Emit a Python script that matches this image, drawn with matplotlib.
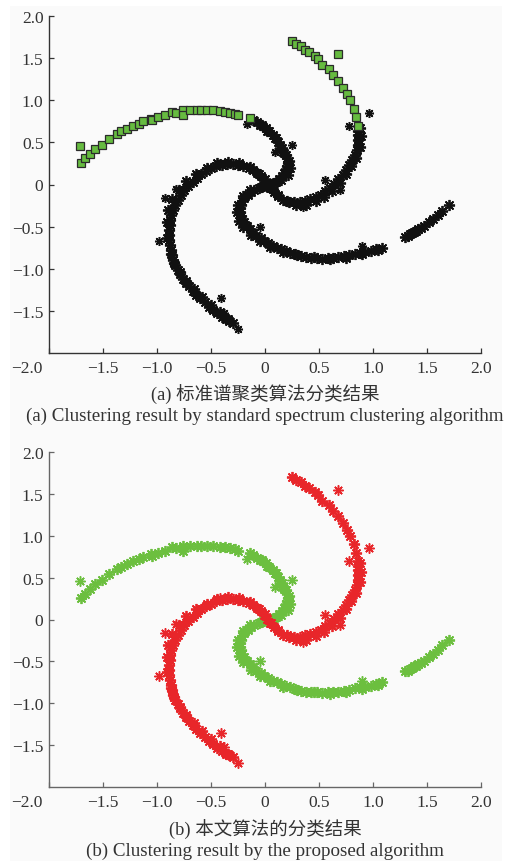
import matplotlib
matplotlib.use('Agg')
import matplotlib.pyplot as plt
from matplotlib.patches import Rectangle
import matplotlib.transforms as mtransforms

plt.rcParams['font.family'] = ['Liberation Serif', 'Noto Sans CJK SC', 'DejaVu Sans']

# ---------------- data ----------------
# outer part of the upper-left arm (squares in (a), green in (b))
sq_green_x = [-1.70, -1.67, -1.62, -1.57, -1.51, -1.44, -1.37, -1.33, -1.28, -1.22,
              -1.17, -1.13, -1.06, -1.05, -0.99, -0.93, -0.86, -0.82, -0.76, -0.76, -0.69,
              -0.63, -0.59, -0.54, -0.48, -0.42, -0.37, -0.32, -0.28, -0.25, -0.14]
sq_green_y = [0.26, 0.31, 0.36, 0.42, 0.47, 0.54, 0.60, 0.63, 0.66, 0.70,
              0.72, 0.75, 0.78, 0.76, 0.80, 0.82, 0.86, 0.85, 0.88, 0.82, 0.88,
              0.88, 0.88, 0.88, 0.88, 0.87, 0.86, 0.85, 0.84, 0.82, 0.79]
# outlier of that arm drawn as a square in (a)
out_green_sq_x = [-1.71]
out_green_sq_y = [0.46]

# outer part of the upper-right arm (squares in (a), red in (b))
sq_red_x = [0.25, 0.29, 0.33, 0.37, 0.41, 0.46, 0.49, 0.53, 0.59, 0.63, 0.68,
            0.72, 0.76, 0.79, 0.82, 0.84, 0.86]
sq_red_y = [1.70, 1.67, 1.64, 1.60, 1.57, 1.52, 1.49, 1.42, 1.37, 1.30, 1.23,
            1.15, 1.07, 1.00, 0.90, 0.80, 0.70]
out_red_sq_x = [0.68]
out_red_sq_y = [1.55]

# rest of the green cluster (black in (a), green in (b))
bk_green_x = [-0.11, -0.07, -0.03, 0.01, 0.04, 0.07, 0.10, 0.12, 0.14, 0.16, 0.17, 0.19,
              0.20, 0.21, 0.20, 0.19, 0.18, 0.16, 0.13, 0.10, 0.06, 0.02, -0.02, -0.06,
              -0.10, -0.13, -0.16, -0.19, -0.21, -0.22, -0.23, -0.23, -0.22, -0.21, -0.19,
              -0.17, -0.14, -0.11, -0.08, -0.04, -0.01, 0.03, 0.07, 0.11, 0.15, 0.19, 0.23,
              0.28, 0.33, 0.38, 0.43, 0.48, 0.53, 0.58, 0.63, 0.68, 0.73, 0.78, 0.83, 0.88,
              0.93, 0.98, 1.03, 1.08,
              -0.05, 0.02, 0.09, 0.14, 0.18, 0.22, 0.23, 0.21, 0.15, 0.08, -0.04, -0.14,
              -0.20, -0.25, -0.26, -0.24, -0.20, -0.13, -0.05, 0.05, 0.17, 0.30, 0.45,
              0.60, 0.75, 0.90, 1.05,
              1.30, 1.32, 1.34, 1.36, 1.38, 1.40, 1.42, 1.44, 1.47, 1.52, 1.56, 1.60, 1.64, 1.70]
bk_green_y = [0.77, 0.74, 0.71, 0.67, 0.63, 0.59, 0.55, 0.51, 0.47, 0.43, 0.39, 0.35,
              0.31, 0.26, 0.22, 0.18, 0.14, 0.10, 0.06, 0.03, 0.01, -0.01, -0.02, -0.04,
              -0.06, -0.09, -0.12, -0.16, -0.20, -0.24, -0.28, -0.33, -0.37, -0.41, -0.45,
              -0.49, -0.53, -0.57, -0.61, -0.64, -0.67, -0.70, -0.73, -0.75, -0.77, -0.79, -0.81,
              -0.83, -0.85, -0.86, -0.87, -0.87, -0.88, -0.87, -0.87, -0.86, -0.85, -0.84, -0.82, -0.81,
              -0.80, -0.79, -0.77, -0.75,
              0.71, 0.64, 0.55, 0.46, 0.37, 0.28, 0.19, 0.11, 0.05, 0.02, -0.03, -0.07,
              -0.14, -0.24, -0.33, -0.43, -0.51, -0.60, -0.67, -0.74, -0.80, -0.84, -0.86,
              -0.89, -0.87, -0.83, -0.78,
              -0.62, -0.61, -0.59, -0.58, -0.56, -0.55, -0.53, -0.52, -0.49, -0.45, -0.41, -0.36, -0.31, -0.24]
out_green_x = [-0.17, 0.09, 0.25, -0.05, 0.90]
out_green_y = [0.72, 0.39, 0.47, -0.50, -0.73]

# rest of the red cluster (black in (a), red in (b))
bk_red_x = [-0.30, -0.33, -0.36, -0.40, -0.44, -0.48, -0.52, -0.56, -0.60, -0.64, -0.67,
            -0.70, -0.73, -0.76, -0.79, -0.81, -0.83, -0.85, -0.86, -0.87, -0.88, -0.89,
            -0.89, -0.89, -0.88, -0.88, -0.87, -0.85, -0.83, -0.81, -0.78, -0.75, -0.71,
            -0.67, -0.63, -0.59, -0.55, -0.50, -0.45, -0.40, -0.35, -0.30, -0.25, -0.20,
            -0.15, -0.11, -0.07, -0.04, -0.01, 0.02, 0.05, 0.08, 0.12, 0.17, 0.22, 0.27,
            0.32, 0.37, 0.42, 0.47, 0.52, 0.56, 0.60, 0.64, 0.68, 0.72, 0.75, 0.78, 0.81,
            0.83, 0.85, 0.86, 0.86, 0.86, 0.86,
            -0.34, -0.42, -0.50, -0.58, -0.66, -0.73, -0.79, -0.84, -0.87, -0.91, -0.91,
            -0.90, -0.86, -0.80, -0.73, -0.64, -0.54, -0.44, -0.34, -0.24, -0.14, -0.06,
            0.00, 0.06, 0.12, 0.20, 0.29, 0.38, 0.47, 0.55, 0.62, 0.69, 0.75, 0.80, 0.84,
            0.88, 0.89, 0.88]
bk_red_y = [-1.64, -1.62, -1.60, -1.57, -1.53, -1.49, -1.45, -1.40, -1.35, -1.31, -1.26,
            -1.21, -1.17, -1.12, -1.06, -1.01, -0.96, -0.90, -0.84, -0.78, -0.72, -0.66,
            -0.60, -0.54, -0.48, -0.42, -0.36, -0.30, -0.24, -0.18, -0.12, -0.07, -0.02,
            0.03, 0.08, 0.12, 0.16, 0.19, 0.22, 0.23, 0.24, 0.24, 0.23, 0.22,
            0.20, 0.17, 0.14, 0.10, 0.05, 0.01, -0.04, -0.09, -0.14, -0.18, -0.21, -0.21,
            -0.21, -0.19, -0.17, -0.15, -0.12, -0.08, -0.04, 0.01, 0.06, 0.11, 0.17, 0.23, 0.29,
            0.35, 0.41, 0.47, 0.53, 0.59, 0.64,
            -1.60, -1.51, -1.43, -1.33, -1.24, -1.14, -1.04, -0.93, -0.82, -0.63, -0.45,
            -0.30, -0.17, -0.06, 0.04, 0.12, 0.19, 0.25, 0.27, 0.26, 0.21, 0.13,
            0.06, -0.04, -0.13, -0.19, -0.24, -0.24, -0.20, -0.15, -0.08, 0.02, 0.12, 0.22,
            0.32, 0.45, 0.57, 0.67]
out_red_x = [0.96, 0.78, 0.56, 0.69, 0.35, -0.42, -0.82, -0.93, -0.98, -0.41, -0.38, -0.25]
out_red_y = [0.85, 0.70, 0.05, -0.07, -0.27, 0.26, -0.05, -0.16, -0.67, -1.35, -1.52, -1.71]

xticks = [-2.0, -1.5, -1.0, -0.5, 0.0, 0.5, 1.0, 1.5, 2.0]
xticklabels = ['\u22122.0', '\u22121.5', '\u22121.0', '\u22120.5', '0', '0.5', '1.0', '1.5', '2.0']
yticks = [-1.5, -1.0, -0.5, 0.0, 0.5, 1.0, 1.5, 2.0]
yticklabels = ['\u22121.5', '\u22121.0', '\u22120.5', '0', '0.5', '1.0', '1.5', '2.0']

caption_a = ['(a) 标准谱聚类算法分类结果',
             '(a) Clustering result by standard spectrum clustering algorithm']
caption_b = ['(b) 本文算法的分类结果',
             '(b) Clustering result by the proposed algorithm']

# ---------------- figure ----------------
W, H = 518, 862
fig = plt.figure(figsize=(W / 100, H / 100), dpi=100)
fig.patch.set_facecolor('white')
fig.patches.append(Rectangle((10 / W, 0), (502 - 10) / W, (H - 7) / H,
                             transform=fig.transFigure, facecolor='#fafafa',
                             edgecolor='none', zorder=-10))

ax_a = fig.add_axes([49 / W, 1 - 354 / H, 432 / W, 337 / H])
ax_b = fig.add_axes([49 / W, 1 - 788 / H, 432 / W, 335 / H])

ast = (8, 2, 0)
BLACK = '#111111'
GREEN = '#6cbf3f'
RED = '#e8262a'
SQ_FACE = '#66bb40'
SQ_EDGE = '#2b2b2b'


def style(ax, spine_col):
    ax.set_facecolor('none')
    ax.set_xlim(-2, 2)
    ax.set_ylim(-2, 2)
    for s in ['top', 'right']:
        ax.spines[s].set_visible(False)
    for s in ['left', 'bottom']:
        ax.spines[s].set_color(spine_col)
        ax.spines[s].set_linewidth(1.0)
    ax.set_xticks(xticks)
    ax.set_xticklabels(xticklabels)
    ax.set_yticks(yticks)
    ax.set_yticklabels(yticklabels)
    ax.tick_params(direction='in', length=3.5, width=0.9, colors=spine_col,
                   labelcolor='#333333', labelsize=12.5)
    ax.tick_params(axis='x', pad=5)
    ax.tick_params(axis='y', pad=4)
    lbl = ax.get_xticklabels()[0]
    lbl.set_transform(lbl.get_transform() +
                      mtransforms.ScaledTranslation(-22 / 100, 0, fig.dpi_scale_trans))


style(ax_a, '#333333')
style(ax_b, '#666666')

BAND_MS, BAND_MEW = 8.0, 1.3
OUT_MS, OUT_MEW = 6.5, 1.1

# panel (a)
for xs, ys in [(bk_green_x, bk_green_y), (bk_red_x, bk_red_y)]:
    ax_a.plot(xs, ys, linestyle='none', marker=ast, ms=BAND_MS, mew=BAND_MEW, color=BLACK)
for xs, ys in [(out_green_x, out_green_y), (out_red_x, out_red_y)]:
    ax_a.plot(xs, ys, linestyle='none', marker=ast, ms=OUT_MS, mew=OUT_MEW, color=BLACK)
for xs, ys in [(sq_green_x, sq_green_y), (sq_red_x, sq_red_y),
               (out_green_sq_x, out_green_sq_y), (out_red_sq_x, out_red_sq_y)]:
    ax_a.plot(xs, ys, linestyle='none', marker='s', ms=5.3, mew=0.9,
              mfc=SQ_FACE, mec=SQ_EDGE)

# panel (b)
ax_b.plot(sq_green_x + bk_green_x, sq_green_y + bk_green_y, linestyle='none',
          marker=ast, ms=BAND_MS, mew=BAND_MEW, color=GREEN)
ax_b.plot(out_green_sq_x + out_green_x, out_green_sq_y + out_green_y, linestyle='none',
          marker=ast, ms=OUT_MS + 0.8, mew=OUT_MEW, color=GREEN)
ax_b.plot(sq_red_x + bk_red_x, sq_red_y + bk_red_y, linestyle='none',
          marker=ast, ms=BAND_MS, mew=BAND_MEW, color=RED)
ax_b.plot(out_red_sq_x + out_red_x, out_red_sq_y + out_red_y, linestyle='none',
          marker=ast, ms=OUT_MS + 0.8, mew=OUT_MEW, color=RED)

# captions
fig.text(265 / W, 1 - 395 / H, caption_a[0], ha='center', va='center', fontsize=13.3, color='#333333')
fig.text(265 / W, 1 - 416 / H, caption_a[1], ha='center', va='center', fontsize=13.7, color='#333333')
fig.text(265 / W, 1 - 830 / H, caption_b[0], ha='center', va='center', fontsize=13.3, color='#333333')
fig.text(265 / W, 1 - 851 / H, caption_b[1], ha='center', va='center', fontsize=13.7, color='#333333')

fig.savefig('out.png', dpi=100, facecolor=fig.get_facecolor())
